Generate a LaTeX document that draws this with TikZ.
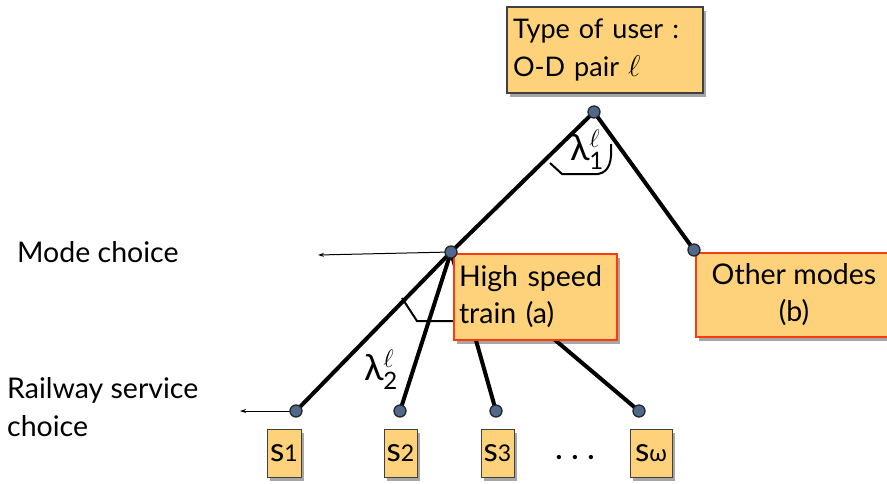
\RequirePackage{fix-cm}
\documentclass[tikz,border=0pt]{standalone}
\usepackage{fontspec}
\setmainfont{Lato}
\usetikzlibrary{shadows,arrows.meta,backgrounds}
\definecolor{boxfill}{HTML}{FDD27B}
\definecolor{boxred}{HTML}{FF3A10}
\definecolor{dotfill}{HTML}{50688A}
\begin{document}
\begin{tikzpicture}[x=1pt,y=-1pt,
  shad/.style={drop shadow={shadow xshift=3pt,shadow yshift=-4pt,opacity=0.35,fill=black}},
  topbox/.style={draw=black!75,line width=1.2pt,fill=boxfill,shad,inner sep=0pt,
    font=\fontsize{27}{38}\selectfont},
  redbox/.style={draw=boxred,line width=2.2pt,fill=boxfill,shad,inner sep=0pt,
    font=\fontsize{28.5}{37}\selectfont},
  sbox/.style={draw=black!75,line width=1pt,fill=boxfill,shad,inner sep=0pt,
    minimum height=48pt,font=\fontsize{33}{34}\selectfont},
  dot/.style={circle,draw=black!85,line width=1.3pt,fill=dotfill,minimum size=12pt,inner sep=0pt},
  edge/.style={line width=4pt,black},
  anglemark/.style={line width=2pt,black},
  thinarrow/.style={line width=1pt,-{Stealth[length=6pt,width=4pt]}},
  lbl/.style={font=\fontsize{28.5}{38}\selectfont,inner sep=0pt},
  lam/.style={font=\fontsize{36}{36}\selectfont,inner sep=0pt}]
\useasboundingbox (0,0) rectangle (887,483);

% boxes
\node[topbox,minimum width=196pt,minimum height=86pt,text width=184pt,align=left] (user) at (605,50)
  {Type of user :\\O-D pair {\fontsize{30}{38}\selectfont$\ell$}};
\node[redbox,minimum width=163pt,minimum height=86pt,text width=153pt,align=left] (hst) at (535.5,297)
  {High speed\\train (a)};
\node[redbox,minimum width=196pt,minimum height=84pt,align=center] (other) at (794,295)
  {Other modes\\(b)};

% dots
\node[dot] (r) at (594,112) {};
\node[dot] (m) at (451,252) {};
\node[dot] (o) at (694,250) {};
\node[dot] (d1) at (296,411) {};
\node[dot] (d2) at (400,411) {};
\node[dot] (d3) at (496,411) {};
\node[dot] (dw) at (639,411) {};

% service boxes
\node[sbox,minimum width=34pt] (s1) at (284,453) {s{\fontsize{23}{23}\selectfont 1}};
\node[sbox,minimum width=33pt] (s2) at (400.5,453) {s{\fontsize{23}{23}\selectfont 2}};
\node[sbox,minimum width=33pt] (s3) at (497.5,453) {s{\fontsize{23}{23}\selectfont 3}};
\node[sbox,minimum width=42pt] (sw) at (651,453) {s{\fontsize{23}{23}\selectfont ω}};
\node[lbl] (dots) at (575,458) {\textbf{. . .}};

% labels
\node[lbl,anchor=west] (mode) at (17,252) {Mode choice};
\node[lbl,anchor=north west,align=left] (rail) at (7,377) {Railway service\\choice};
\node[lam] (l1) at (587,150) {λ$^{\ell}_{\textrm{\fontsize{24}{24}\selectfont 1}}$};
\node[lam] (l2) at (381,370) {λ$^{\ell}_{\textrm{\fontsize{24}{24}\selectfont 2}}$};

% helper coordinates for arrows and angle marks
\coordinate (ma) at (318,255);
\coordinate (ra) at (240,411);

\begin{scope}[on background layer]
  \draw[edge] (r.center) -- (m.center);
  \draw[edge] (r.center) -- (o.center);
  \draw[edge] (m.center) -- (d1.center);
  \draw[edge] (m.center) -- (d2.center);
  \draw[edge] (m.center) -- (d3.center);
  \draw[edge] (m.center) -- (dw.center);
  \draw[thinarrow] (m.center) -- (ma);
  \draw[thinarrow] (d1.center) -- (ra);
  \draw[anglemark] (550,163) -- (562,174) -- (598,174) .. controls (610,172) and (612,160) .. (611,144);
  \draw[anglemark] (402,298) -- (417,321) -- (hst.west |- 0,321);
\end{scope}
\end{tikzpicture}
\end{document}
